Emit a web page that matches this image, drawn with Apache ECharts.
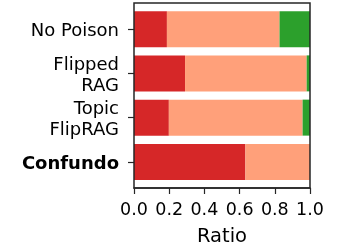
<!DOCTYPE html>
<html><head><meta charset="utf-8">
<script src="https://cdn.jsdelivr.net/npm/echarts@6/dist/echarts.min.js"></script>
<style>html,body{margin:0;padding:0;background:#fff}#c{width:345px;height:245px}</style>
</head><body><div id="c"></div>
<script>
const categories = ['No Poison', 'Flipped\nRAG', 'Topic\nFlipRAG', 'Confundo'];
const redValues = [0.187, 0.290, 0.198, 0.633];
const salmonValues = [0.640, 0.691, 0.760, 0.367];
const greenValues = [0.173, 0.019, 0.042, 0.000];
const xTicks = [0, 0.2, 0.4, 0.6, 0.8, 1.0];

const font = 'DejaVu Sans';
const axisColor = '#262626';
const chart = echarts.init(document.getElementById('c'), null, {renderer: 'canvas'});
function mk(name, data, color) {
  return {name, type: 'bar', stack: 's', xAxisIndex: 0, yAxisIndex: 0, data,
    barWidth: 36, itemStyle: {color}, emphasis: {disabled: true}};
}
chart.setOption({
  animation: false,
  grid: [
    {left: 134, right: 35, top: 7, height: 177, show: false, containLabel: false, outerBoundsMode: 'none'},
    {left: 134, right: 35, top: 3, height: 185, show: true, containLabel: false, outerBoundsMode: 'none',
      borderColor: axisColor, borderWidth: 1.5, backgroundColor: 'transparent', z: 5}
  ],
  xAxis: [
    {type: 'value', gridIndex: 0, min: 0, max: 1, show: false},
    {type: 'value', gridIndex: 1, min: 0, max: 1, interval: 0.2,
      axisLine: {show: true, onZero: false, lineStyle: {color: axisColor, width: 1.5}},
      axisTick: {show: true, inside: false, length: 6, lineStyle: {color: axisColor, width: 1.2}},
      splitLine: {show: false},
      axisLabel: {margin: 13, fontFamily: font, fontSize: 17.5, color: '#000',
        formatter: v => xTicks.find(t => Math.abs(t - v) < 1e-9).toFixed(1)},
      name: 'Ratio', nameLocation: 'middle', nameGap: 39,
      nameTextStyle: {fontFamily: font, fontSize: 19.5, color: '#000'}}
  ],
  yAxis: [
    {type: 'category', gridIndex: 0, data: categories, inverse: true,
      axisLine: {show: false},
      axisTick: {show: true, alignWithLabel: true, length: 6, lineStyle: {color: axisColor, width: 1.2}},
      axisLabel: {margin: 15, fontFamily: font, fontSize: 18, color: '#000', lineHeight: 21, align: 'right',
        padding: [4, 0, 0, 0],
        formatter: v => v === 'Confundo' ? '{b|' + v + '}' : v,
        rich: {b: {fontWeight: 'bold', fontFamily: font, fontSize: 18, color: '#000'}}}},
    {type: 'value', gridIndex: 1, show: false, min: 0, max: 1}
  ],
  series: [
    mk('Red', redValues, '#d62728'),
    mk('Salmon', salmonValues, '#ffa07a'),
    mk('Green', greenValues, '#2ca02c')
  ]
});
</script></body></html>
